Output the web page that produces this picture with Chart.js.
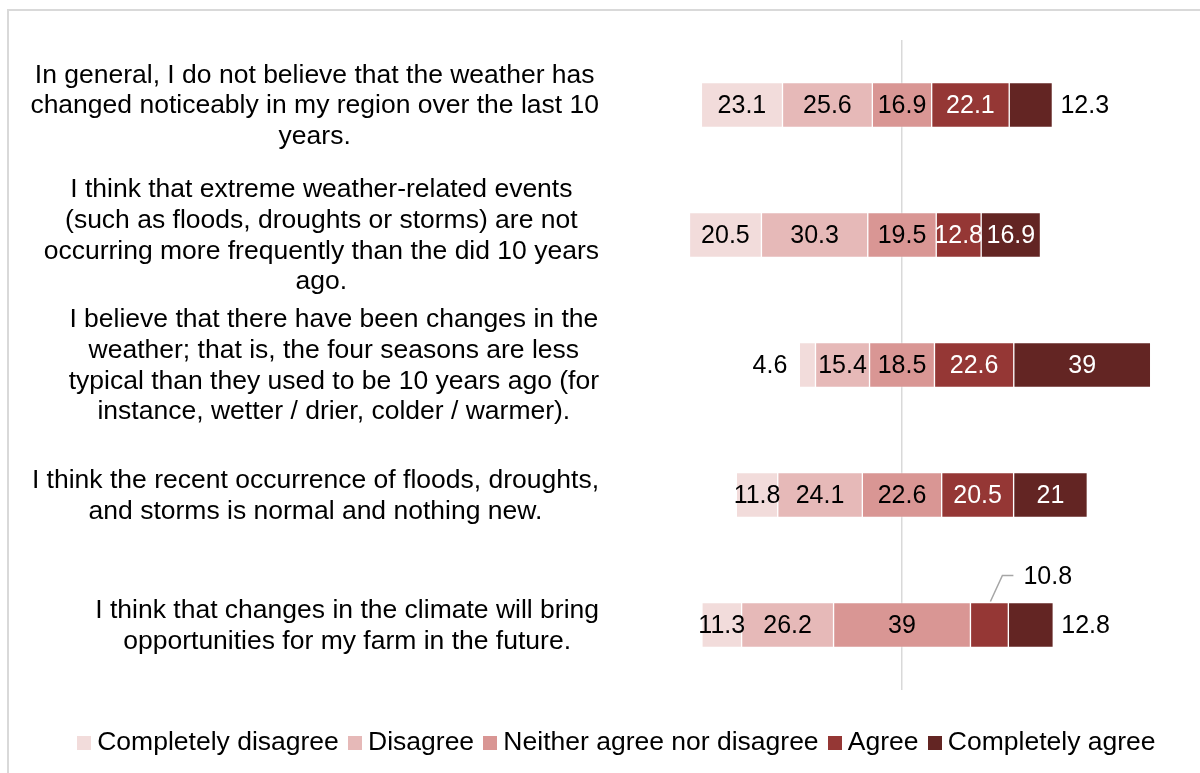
<!DOCTYPE html>
<html>
<head>
<meta charset="utf-8">
<script src="https://cdn.jsdelivr.net/npm/chart.js@4.4.1/dist/chart.umd.min.js"></script>
<style>
html,body{margin:0;padding:0;background:#fff;overflow:hidden;width:1200px;height:773px}
#frame{position:absolute;left:7px;top:9px;width:1300px;height:900px;border-left:2px solid #d9d9d9;border-top:2px solid #d9d9d9}
#c{position:absolute;left:0;top:0}
</style>
</head>
<body>
<div id="frame"></div>
<canvas id="c" width="1200" height="773"></canvas>
<script>
// ---- data ----
const categories = [
  ["In general, I do not believe that the weather has", "changed noticeably in my region over the last 10", "years."],
  ["I think that extreme weather-related events", "(such as floods, droughts or storms) are not", "occurring more frequently than the did 10 years", "ago."],
  ["I believe that there have been changes in the", "weather; that is, the four seasons are less", "typical than they used to be 10 years ago (for", "instance, wetter / drier, colder / warmer)."],
  ["I think the recent occurrence of floods, droughts,", "and storms is normal and nothing new."],
  ["I think that changes in the climate will bring", "opportunities for my farm in the future."]
];
const seriesNames = ["Completely disagree", "Disagree", "Neither agree nor disagree", "Agree", "Completely agree"];
const completelyDisagree = [23.1, 20.5, 4.6, 11.8, 11.3];
const disagree           = [25.6, 30.3, 15.4, 24.1, 26.2];
const neither            = [16.9, 19.5, 18.5, 22.6, 39];
const agree              = [22.1, 12.8, 22.6, 20.5, 10.8];
const completelyAgree    = [12.3, 16.9, 39, 21, 12.8];
const seriesValues = [completelyDisagree, disagree, neither, agree, completelyAgree];

// ---- styles ----
const colors = ["#f2dcdb", "#e6b9b8", "#d99694", "#953735", "#632523"];
const labelColors = ["#000", "#000", "#000", "#fff", "#fff"];
// label placement overrides: row -> series -> mode
const labelPlacement = {0: {4: 'right'}, 2: {0: 'left'}, 4: {3: 'callout', 4: 'right'}};
const FONT = '"Liberation Sans", Arial, sans-serif';

// diverging: centre of the neutral segment at 0
const floating = seriesValues.map((vals, k) => vals.map((v, j) => {
  const offset = completelyDisagree[j] + disagree[j] + neither[j] / 2;
  let start = -offset;
  for (let m = 0; m < k; m++) start += seriesValues[m][j];
  return [start, start + v];
}));

function swatch(color) {
  const c = document.createElement('canvas');
  c.width = 14; c.height = 14;
  const g = c.getContext('2d');
  g.fillStyle = color; g.fillRect(0, 0, 14, 14);
  return c;
}

const catLabelPlugin = {
  id: 'catLabels',
  afterDraw(chart) {
    const ctx = chart.ctx, ys = chart.scales.y;
    ctx.save();
    ctx.font = '26.5px ' + FONT;
    ctx.fillStyle = '#000';
    ctx.textAlign = 'center';
    ctx.textBaseline = 'middle';
    const right = 599, lh = 30.7;
    categories.forEach((lines, i) => {
      const maxW = Math.max(...lines.map(l => ctx.measureText(l).width));
      const cx = right - maxW / 2;
      const cy = ys.getPixelForValue(i) + 1;
      lines.forEach((l, k) => ctx.fillText(l, cx, cy + (k - (lines.length - 1) / 2) * lh));
    });
    ctx.restore();
  }
};

const dataLabelPlugin = {
  id: 'dataLabels',
  afterDatasetsDraw(chart) {
    const ctx = chart.ctx;
    ctx.save();
    ctx.font = '25px ' + FONT;
    ctx.textBaseline = 'middle';
    chart.data.datasets.forEach((ds, k) => {
      const meta = chart.getDatasetMeta(k);
      meta.data.forEach((bar, j) => {
        const v = seriesValues[k][j];
        const mode = (labelPlacement[j] && labelPlacement[j][k]) || 'in';
        const l = Math.min(bar.x, bar.base), r = Math.max(bar.x, bar.base);
        const cy = bar.y + 1, top = bar.y - bar.height / 2;
        const cx = (l + r) / 2;
        const txt = String(v);
        if (mode === 'in') {
          ctx.fillStyle = labelColors[k]; ctx.textAlign = 'center';
          ctx.fillText(txt, cx, cy);
        } else if (mode === 'right') {
          ctx.fillStyle = '#000'; ctx.textAlign = 'left';
          ctx.fillText(txt, r + 8, cy);
        } else if (mode === 'left') {
          ctx.fillStyle = '#000'; ctx.textAlign = 'right';
          ctx.fillText(txt, l - 12, cy);
        } else if (mode === 'callout') {
          ctx.strokeStyle = '#a6a6a6'; ctx.lineWidth = 1.5;
          ctx.beginPath();
          ctx.moveTo(cx + 1, top - 1);
          ctx.lineTo(cx + 13, top - 27);
          ctx.lineTo(cx + 24, top - 27);
          ctx.stroke();
          ctx.fillStyle = '#000'; ctx.textAlign = 'left';
          ctx.fillText(txt, cx + 34, top - 25);
        }
      });
    });
    ctx.restore();
  }
};

new Chart(document.getElementById('c'), {
  type: 'bar',
  data: {
    labels: categories,
    datasets: seriesNames.map((name, k) => ({
      label: name,
      data: floating[k],
      backgroundColor: colors[k],
      borderColor: 'rgba(255,255,255,0.35)',
      borderWidth: 1,
      borderSkipped: false,
      barThickness: 45
    }))
  },
  options: {
    indexAxis: 'y',
    responsive: false,
    animation: false,
    layout: {padding: {left: 39.5, right: 0, top: 40, bottom: 6.75}},
    scales: {
      x: {
        min: -85, max: 84.9, stacked: false, z: 1,
        border: {display: false},
        ticks: {display: false},
        grid: {drawTicks: false, lineWidth: 1.5,
          color: c => (c.tick && c.tick.value === 0) ? '#d9d9d9' : 'rgba(0,0,0,0)'},
        afterBuildTicks: s => { s.ticks = [{value: 0}]; },
        afterFit: s => { s.height = 23.75; }
      },
      y: {
        stacked: true,
        border: {display: false},
        grid: {display: false},
        ticks: {display: false},
        afterFit: s => { s.width = 564.15; }
      }
    },
    plugins: {
      tooltip: {enabled: false},
      legend: {
        position: 'bottom',
        labels: {
          usePointStyle: true,
          pointStyleWidth: 0.01,
          padding: 16,
          color: '#000',
          font: {size: 26.5, family: FONT},
          generateLabels: chart => {
            const items = Chart.defaults.plugins.legend.labels.generateLabels(chart);
            items.forEach((it, i) => { it.pointStyle = swatch(colors[i]); });
            return items;
          }
        }
      }
    }
  },
  plugins: [catLabelPlugin, dataLabelPlugin]
});
</script>
</body>
</html>
